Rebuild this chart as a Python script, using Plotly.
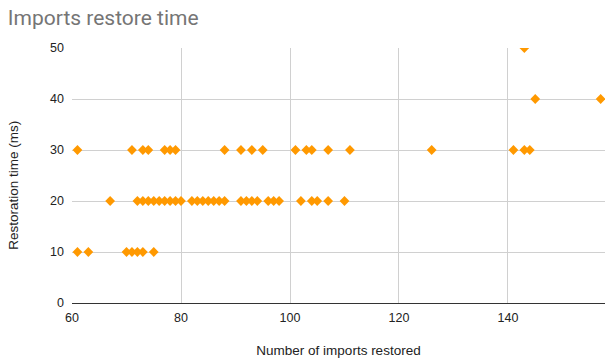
import plotly.graph_objects as go

imports_restored = [
    61, 63, 70, 71, 72, 73, 75,
    67, 72, 73, 74, 75, 76, 77, 78, 79, 80, 82, 83, 84, 85, 86, 87, 88,
    91, 92, 93, 94, 96, 97, 98, 102, 104, 105, 107, 110,
    61, 71, 73, 74, 77, 78, 79, 88, 91, 93, 95, 101, 103, 104, 107, 111,
    126, 141, 143, 144,
    145, 157,
    143,
]
restore_ms = (
    [10] * 7
    + [20] * 29
    + [30] * 20
    + [40] * 2
    + [50] * 1
)

x_ticks = [60, 80, 100, 120, 140]
y_ticks = [0, 10, 20, 30, 40, 50]

fig = go.Figure()
fig.add_trace(go.Scatter(
    x=imports_restored, y=restore_ms, mode="markers",
    marker=dict(symbol="diamond", size=7.5, color="#FF9900", line=dict(width=0)),
    cliponaxis=True, showlegend=False,
))

fig.update_layout(
    width=605, height=360,
    margin=dict(l=72, r=0, t=48, b=57),
    paper_bgcolor="white", plot_bgcolor="white",
    title=dict(text="Imports restore time", x=0.013, xanchor="left", y=0.951, yanchor="middle",
               font=dict(family="Roboto", size=21, color="#757575")),
    font=dict(family="Liberation Sans, Arial", size=12, color="#222"),
    xaxis=dict(range=[60, 157.8], tickvals=x_ticks, showgrid=True, gridcolor="#d0d0d0",
               zeroline=False, showline=False, ticks="", ticklabelstandoff=5,
               title=dict(text="Number of imports restored", font=dict(size=13.5, color="#222"), standoff=22),
               tickfont=dict(size=12.5, color="#222")),
    yaxis=dict(range=[0, 50], tickvals=y_ticks, showgrid=True, gridcolor="#d0d0d0",
               zeroline=True, zerolinecolor="#333333", zerolinewidth=1.3, showline=False, ticks="",
               ticklabelstandoff=7, tickfont=dict(size=12.5, color="#222")),
    annotations=[dict(text="Restoration time (ms)", textangle=-90, xref="paper", yref="paper",
                      x=-0.109, y=0.463, xanchor="center", yanchor="middle", showarrow=False,
                      font=dict(size=13.5, color="#222"))],
)

fig.write_html("out.html", config={"displayModeBar": False},
               post_script="document.body.style.margin='0px';")
